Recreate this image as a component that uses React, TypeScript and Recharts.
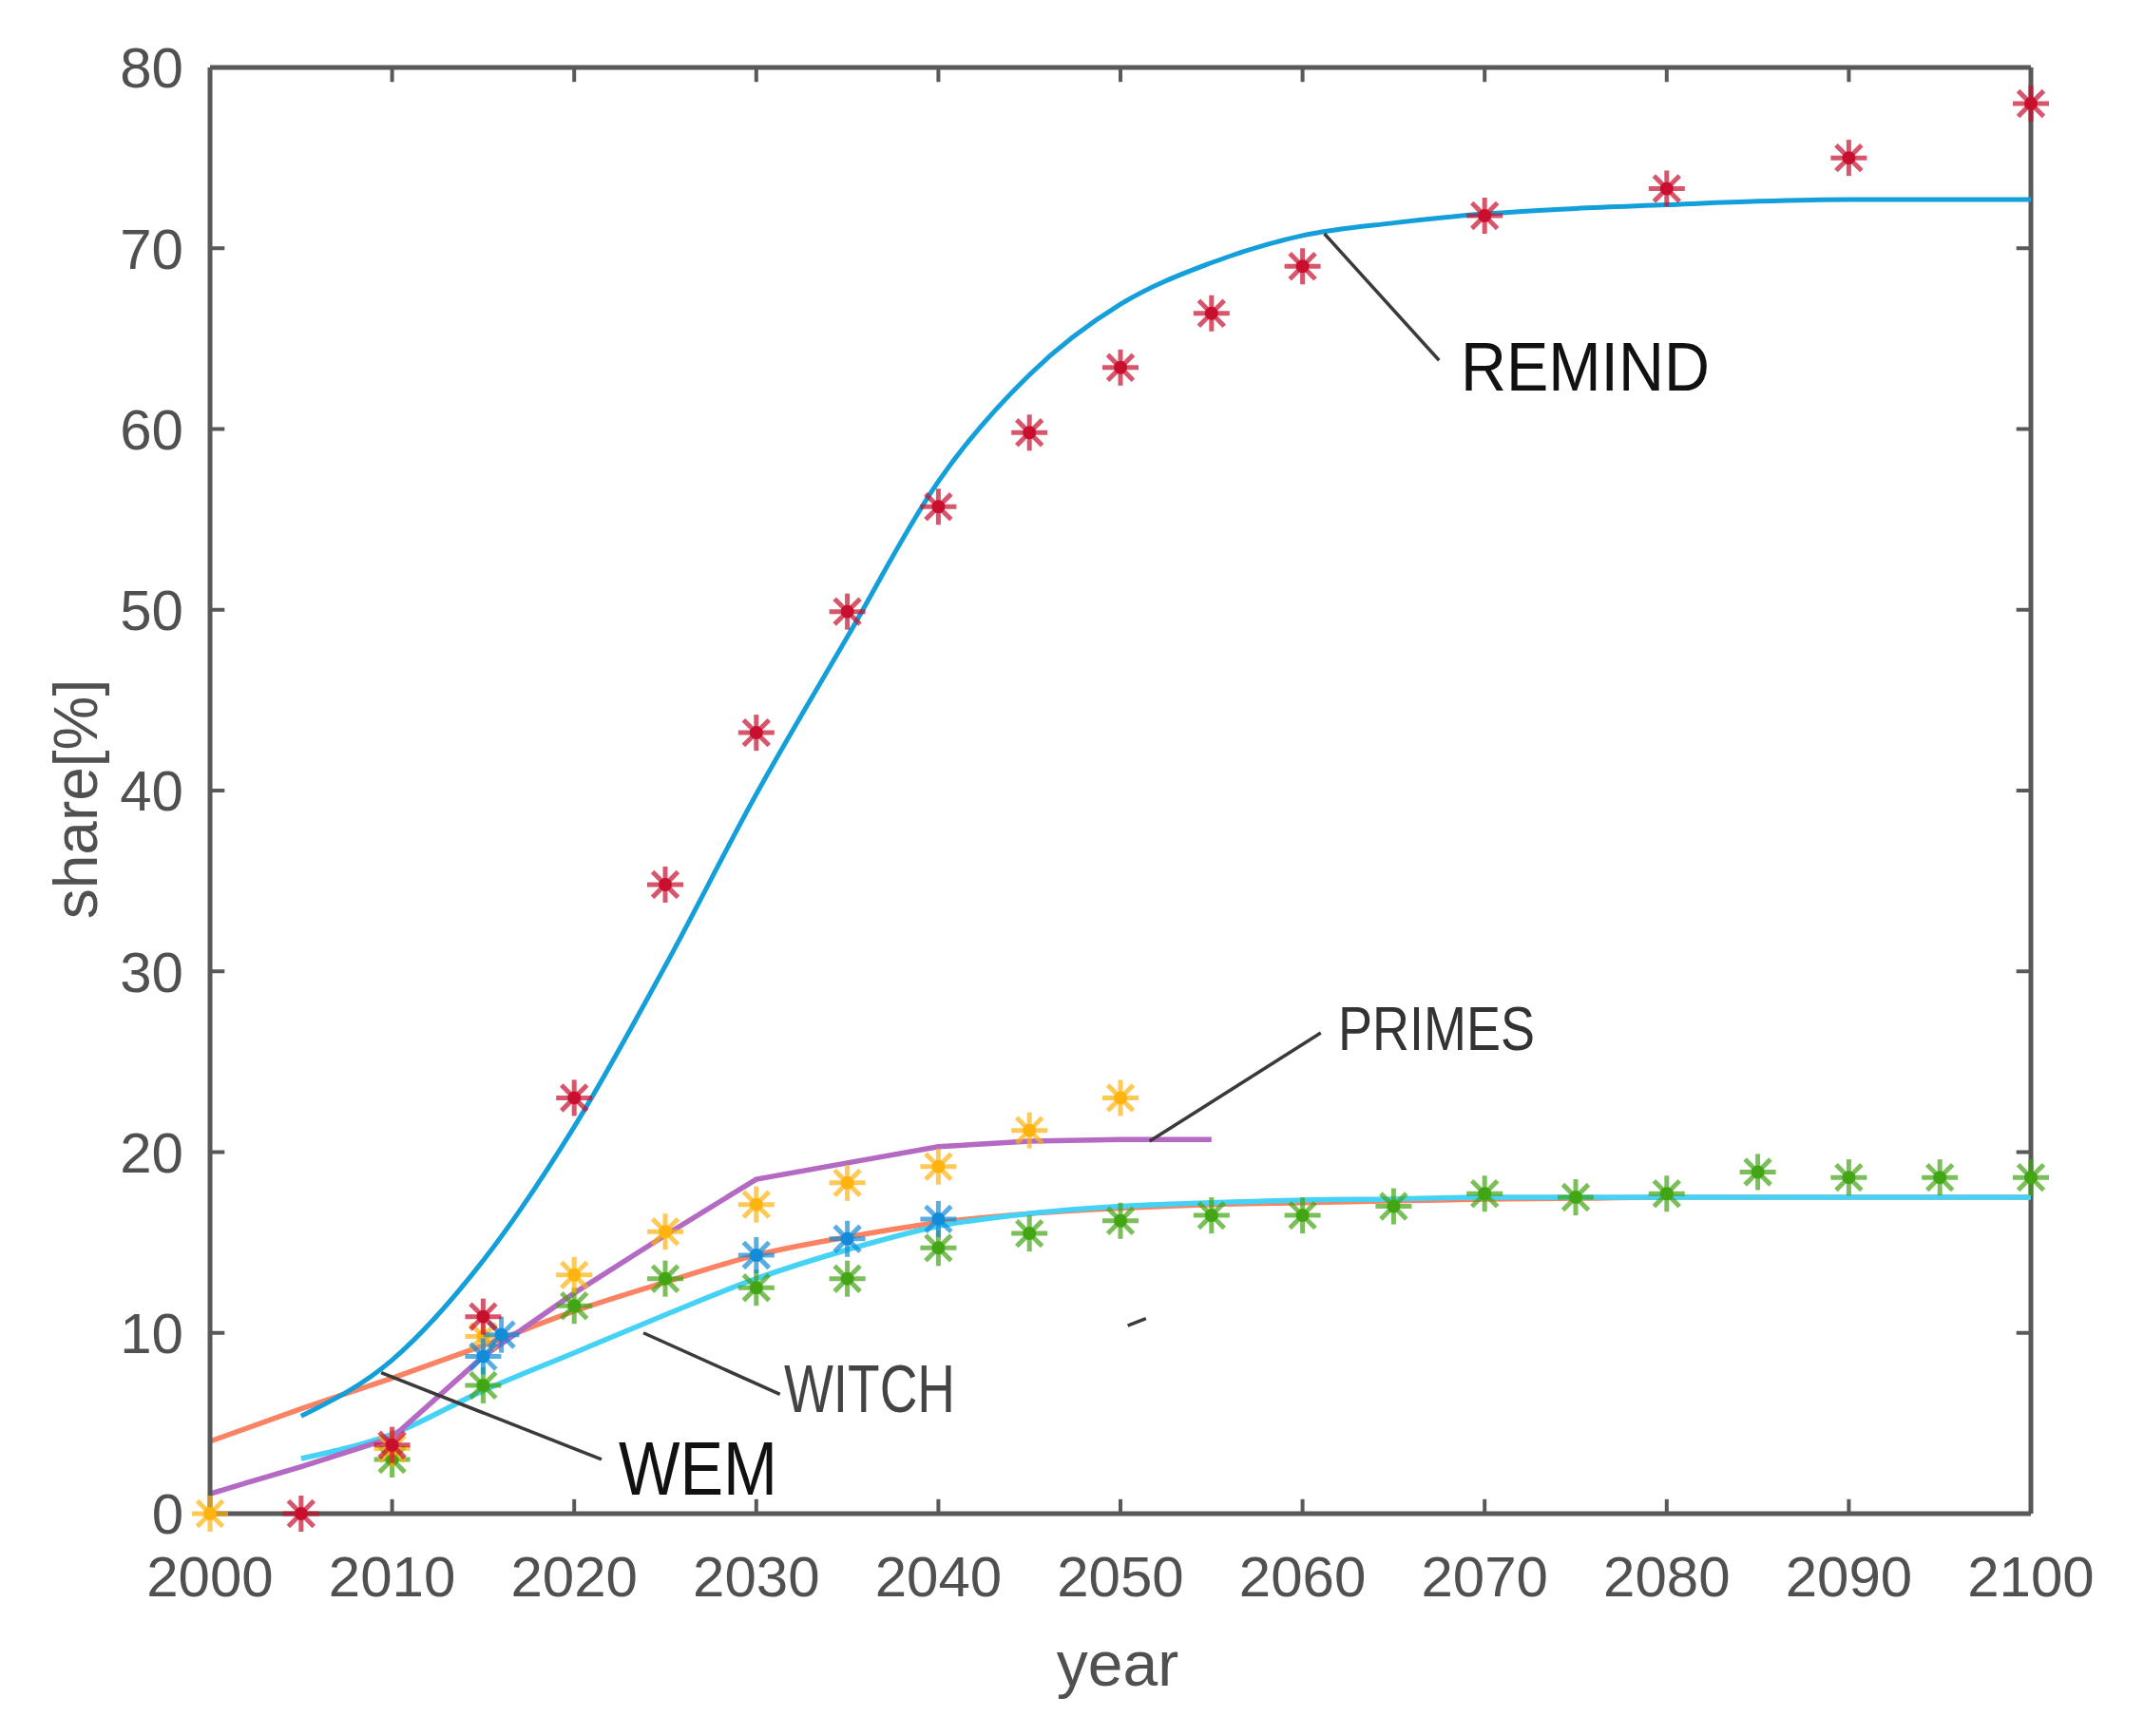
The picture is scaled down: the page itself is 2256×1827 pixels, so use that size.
import { ComposedChart, Line, Scatter, XAxis, YAxis, ReferenceLine, Customized } from "recharts";

// fitted model curves (5-year steps)
const remindFitYears = [2005, 2010, 2015, 2020, 2025, 2030, 2035, 2040, 2045, 2050, 2055, 2060, 2065, 2070, 2075, 2080, 2085, 2090, 2095, 2100];
const remindFitShare = [5.4, 8.5, 14.0, 21.4, 30.3, 39.8, 48.5, 57.1, 63.0, 66.9, 69.2, 70.7, 71.4, 71.9, 72.2, 72.4, 72.6, 72.7, 72.7, 72.7];

const primesFitYears = [2000, 2005, 2010, 2015, 2020, 2025, 2030, 2035, 2040, 2045, 2050, 2055];
const primesFitShare = [1.1, 2.6, 4.2, 8.7, 12.2, 15.4, 18.5, 19.4, 20.3, 20.6, 20.7, 20.7];

const wemFitYears = [2000, 2005, 2010, 2015, 2020, 2025, 2030, 2035, 2040, 2045, 2050, 2055, 2060, 2065, 2070, 2075, 2080, 2085, 2090, 2095, 2100];
const wemFitShare = [4.0, 5.8, 7.5, 9.3, 11.2, 12.8, 14.3, 15.3, 16.1, 16.6, 16.9, 17.1, 17.2, 17.3, 17.4, 17.45, 17.5, 17.5, 17.5, 17.5, 17.5];

const witchFitYears = [2005, 2010, 2015, 2020, 2025, 2030, 2035, 2040, 2045, 2050, 2055, 2060, 2065, 2070, 2075, 2080, 2085, 2090, 2095, 2100];
const witchFitShare = [3.05, 4.4, 6.8, 8.9, 11.0, 13.0, 14.6, 15.9, 16.6, 17.0, 17.2, 17.35, 17.4, 17.5, 17.5, 17.5, 17.5, 17.5, 17.5, 17.5];

// scenario data points (asterisks)
const remindYears = [2005, 2010, 2015, 2020, 2025, 2030, 2035, 2040, 2045, 2050, 2055, 2060, 2070, 2080, 2090, 2100];
const remindShare = [0, 3.8, 10.9, 23.0, 34.8, 43.2, 49.9, 55.7, 59.8, 63.4, 66.4, 69.0, 71.8, 73.3, 75.0, 78.0];

const primesYears = [2000, 2010, 2015, 2020, 2025, 2030, 2035, 2040, 2045, 2050];
const primesShare = [0, 3.6, 9.8, 13.2, 15.6, 17.1, 18.3, 19.2, 21.2, 23.0];

const wemYears = [2015, 2016, 2030, 2035, 2040];
const wemShare = [8.7, 9.9, 14.3, 15.2, 16.3];

const witchYears = [2010, 2015, 2020, 2025, 2030, 2035, 2040, 2045, 2050, 2055, 2060, 2065, 2070, 2075, 2080, 2085, 2090, 2095, 2100];
const witchShare = [3.0, 7.1, 11.5, 13.0, 12.5, 13.0, 14.7, 15.5, 16.2, 16.5, 16.5, 17.0, 17.7, 17.5, 17.7, 18.9, 18.6, 18.6, 18.6];

const xTicks = [2000, 2010, 2020, 2030, 2040, 2050, 2060, 2070, 2080, 2090, 2100];
const yTicks = [0, 10, 20, 30, 40, 50, 60, 70, 80];

// leader lines from labels to curves, in data units
const leaderLines = [
  [{ x: 2061.2, y: 70.8 }, { x: 2067.5, y: 63.8 }],
  [{ x: 2051.6, y: 20.6 }, { x: 2061.0, y: 26.6 }],
  [{ x: 2023.8, y: 10.0 }, { x: 2031.3, y: 6.6 }],
  [{ x: 2009.4, y: 7.8 }, { x: 2021.5, y: 3.0 }],
  [{ x: 2050.4, y: 10.4 }, { x: 2051.4, y: 10.8 }],
];

const toPoints = (years: number[], values: number[]) =>
  years.map((year, i) => ({ year, share: values[i] }));

const AXIS = "#595959";
const FONT = "'Liberation Sans', Arial, sans-serif";
const X_TICK_LEN = 0.8; // in share units
const Y_TICK_LEN = 0.8; // in years

function asterisk(color: string) {
  return (props: any) => {
    const { cx, cy } = props;
    const r = 19;
    const d = r * 0.707;
    return (
      <g stroke={color} strokeWidth={5}>
        <g opacity={0.7}>
          <line x1={cx - r} y1={cy} x2={cx + r} y2={cy} />
          <line x1={cx} y1={cy - r} x2={cx} y2={cy + r} />
          <line x1={cx - d} y1={cy - d} x2={cx + d} y2={cy + d} />
          <line x1={cx - d} y1={cy + d} x2={cx + d} y2={cy - d} />
        </g>
        <circle cx={cx} cy={cy} r={7} fill={color} stroke="none" />
      </g>
    );
  };
}

const Annotations = () => (
  <g fontFamily={FONT}>
    <text x={72} y={833} fontSize={64} fill="#505050" textAnchor="middle" dominantBaseline="central" transform="rotate(-90 72 833)">
      share[%]
    </text>
    <text x={1168} y={1766} fontSize={66} fill="#505050" textAnchor="middle">year</text>
    <text x={1529} y={403} fontSize={72} fill="#111" textLength={262} lengthAdjust="spacingAndGlyphs">REMIND</text>
    <text x={1400} y={1097} fontSize={64} fill="#333" textLength={207} lengthAdjust="spacingAndGlyphs">PRIMES</text>
    <text x={817} y={1478} fontSize={70} fill="#444" textLength={180} lengthAdjust="spacingAndGlyphs">WITCH</text>
    <text x={643} y={1565} fontSize={80} fill="#111" textLength={167} lengthAdjust="spacingAndGlyphs">WEM</text>
  </g>
);

export default function App() {
  const tickStyle = { fill: "#505050", fontSize: 60, fontFamily: FONT };
  return (
    <ComposedChart width={2240} height={1811} margin={{ top: 63, right: 111, bottom: 0, left: 0 }}>
      <XAxis
        dataKey="year"
        type="number"
        domain={[2000, 2100]}
        ticks={xTicks}
        height={226}
        tickSize={0}
        tickMargin={44}
        tick={tickStyle}
        axisLine={{ stroke: AXIS, strokeWidth: 5 }}
        tickLine={false}
      />
      <YAxis
        type="number"
        domain={[0, 80]}
        ticks={yTicks}
        width={213}
        tickSize={0}
        tickMargin={28}
        tick={tickStyle}
        axisLine={{ stroke: AXIS, strokeWidth: 5 }}
        tickLine={false}
      />

      {/* box frame and inward ticks */}
      <ReferenceLine y={80} stroke={AXIS} strokeWidth={5} />
      <ReferenceLine x={2100} stroke={AXIS} strokeWidth={5} />
      {xTicks.map((t) => (
        <ReferenceLine key={`xb${t}`} segment={[{ x: t, y: 0 }, { x: t, y: X_TICK_LEN }]} stroke={AXIS} strokeWidth={4} />
      ))}
      {xTicks.map((t) => (
        <ReferenceLine key={`xt${t}`} segment={[{ x: t, y: 80 }, { x: t, y: 80 - X_TICK_LEN }]} stroke={AXIS} strokeWidth={4} />
      ))}
      {yTicks.map((t) => (
        <ReferenceLine key={`yl${t}`} segment={[{ x: 2000, y: t }, { x: 2000 + Y_TICK_LEN, y: t }]} stroke={AXIS} strokeWidth={4} />
      ))}
      {yTicks.map((t) => (
        <ReferenceLine key={`yr${t}`} segment={[{ x: 2100, y: t }, { x: 2100 - Y_TICK_LEN, y: t }]} stroke={AXIS} strokeWidth={4} />
      ))}

      <Line data={toPoints(wemFitYears, wemFitShare)} dataKey="share" type="monotone" stroke="#fb8262" strokeWidth={5.5} dot={false} isAnimationActive={false} />
      <Line data={toPoints(witchFitYears, witchFitShare)} dataKey="share" type="monotone" stroke="#45d2f7" strokeWidth={5.5} dot={false} isAnimationActive={false} />
      <Line data={toPoints(primesFitYears, primesFitShare)} dataKey="share" type="linear" stroke="#b469c3" strokeWidth={5.5} dot={false} isAnimationActive={false} />
      <Line data={toPoints(remindFitYears, remindFitShare)} dataKey="share" type="monotone" stroke="#139fd9" strokeWidth={5} dot={false} isAnimationActive={false} />

      <Scatter data={toPoints(witchYears, witchShare)} dataKey="share" shape={asterisk("#42a514")} isAnimationActive={false} />
      <Scatter data={toPoints(primesYears, primesShare)} dataKey="share" shape={asterisk("#ffb30f")} isAnimationActive={false} />
      <Scatter data={toPoints(wemYears, wemShare)} dataKey="share" shape={asterisk("#128bd8")} isAnimationActive={false} />
      <Scatter data={toPoints(remindYears, remindShare)} dataKey="share" shape={asterisk("#c8102e")} isAnimationActive={false} />

      {leaderLines.map((seg, i) => (
        <ReferenceLine key={i} segment={seg} stroke="#3a3a3a" strokeWidth={3.5} />
      ))}
      <Customized component={Annotations} />
    </ComposedChart>
  );
}
